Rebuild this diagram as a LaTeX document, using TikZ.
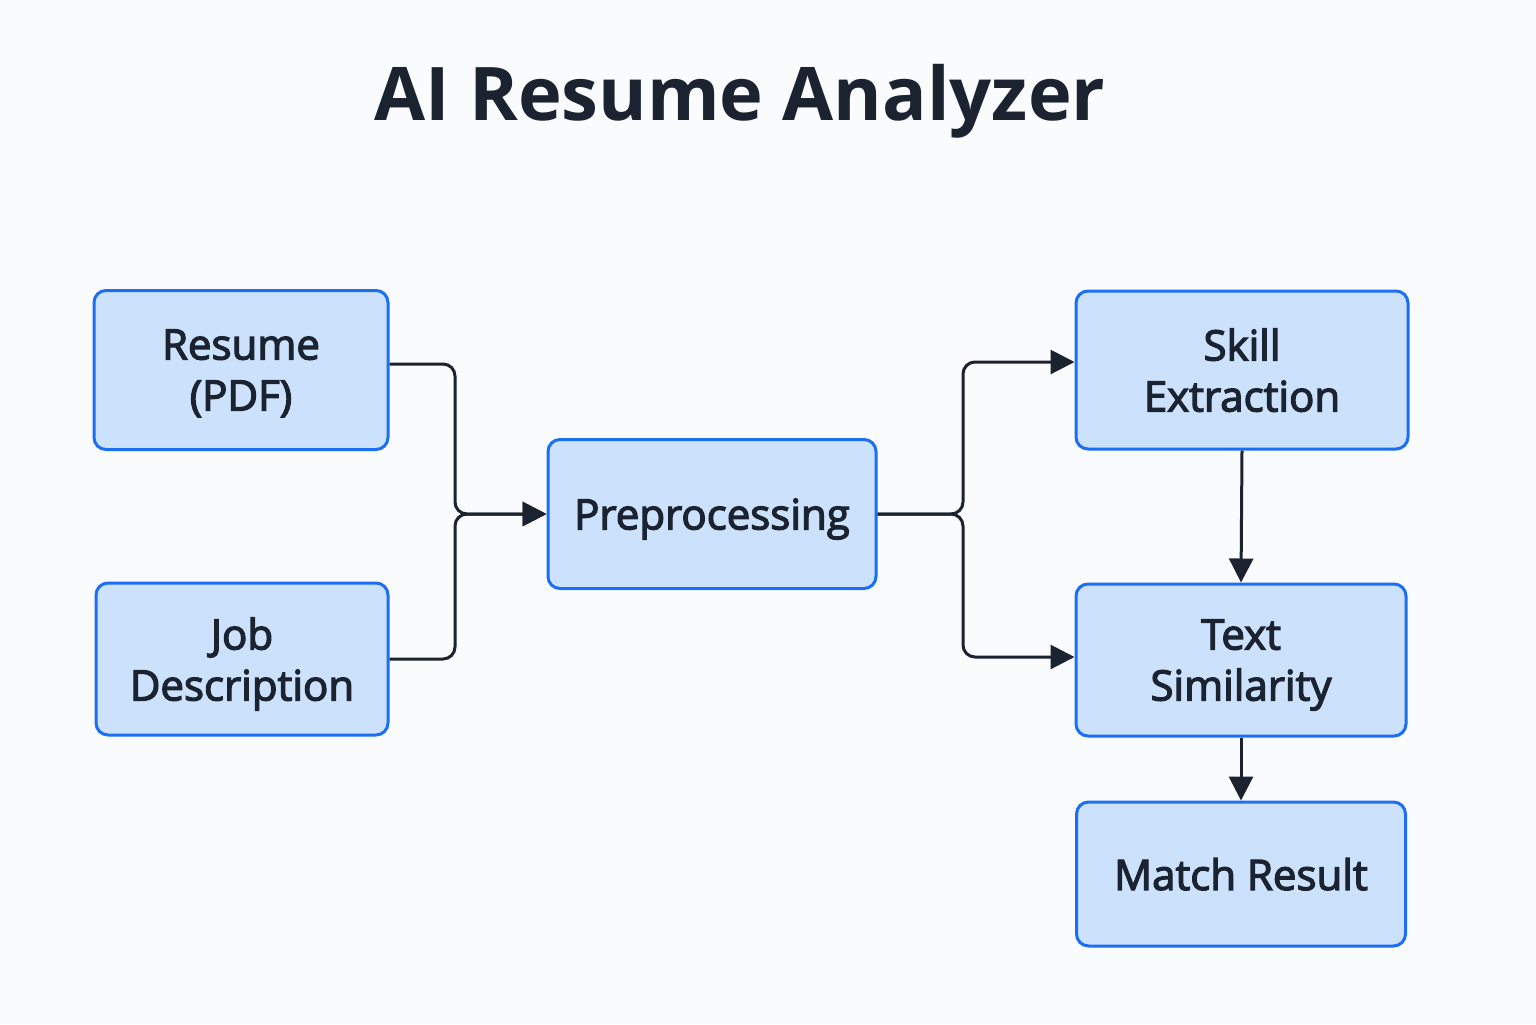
\documentclass[tikz,border=0pt]{standalone}
\usepackage{fontspec}
\setmainfont{Open Sans}
\newfontfamily\boxfont{Open Sans}[FakeBold=3]
\usetikzlibrary{arrows.meta}
\definecolor{bg}{HTML}{FAFBFC}
\definecolor{boxfill}{HTML}{CCE1FB}
\definecolor{boxline}{HTML}{1C6EF2}
\definecolor{ink}{HTML}{1B2330}
\begin{document}
\begin{tikzpicture}[x=0.5pt,y=-0.5pt,
  blk/.style={draw=boxline, fill=boxfill, line width=1.5pt, rounded corners=6pt,
    align=center, text=ink, font=\boxfont\fontsize{21}{25.5}\selectfont, inner sep=0pt,
    text depth=-2pt},
  conn/.style={draw=ink, line width=1.5pt, rounded corners=6pt},
  arr/.style={conn, -{Triangle[length=12pt,width=12pt]}}]
\useasboundingbox[fill=bg] (0,0) rectangle (1536,1024);
\node[text=ink, font=\bfseries\fontsize{37}{44}\selectfont] (title) at (740,101) {AI Resume Analyzer};
\node[blk, minimum width=147pt, minimum height=79.5pt] (res) at (241,370) {Resume\\(PDF)};
\node[blk, minimum width=146pt, minimum height=76pt] (job) at (242,659) {Job\\Description};
\node[blk, minimum width=164pt, minimum height=74.5pt] (pre) at (712,514) {Preprocessing};
\node[blk, minimum width=166pt, minimum height=79pt] (skl) at (1242,370) {Skill\\Extraction};
\node[blk, minimum width=165pt, minimum height=76pt] (txt) at (1241,660) {Text\\Similarity};
\node[blk, minimum width=164.5pt, minimum height=72pt] (mat) at (1241,874) {Match Result};
\coordinate (jl) at (455,514);
\coordinate (jr) at (963,514);
\draw[arr] ([yshift=3pt]res.east) -| (jl) -- (pre.west);
\draw[arr] (job.east) -| (jl) -- (pre.west);
\draw[arr] (pre.east) -- (jr) |- ([yshift=4pt]skl.west);
\draw[arr] (pre.east) -- (jr) |- ([yshift=1.5pt]txt.west);
\draw[arr] (skl.south) -- (txt.north);
\draw[arr] (txt.south) -- (mat.north);
\end{tikzpicture}
\end{document}
